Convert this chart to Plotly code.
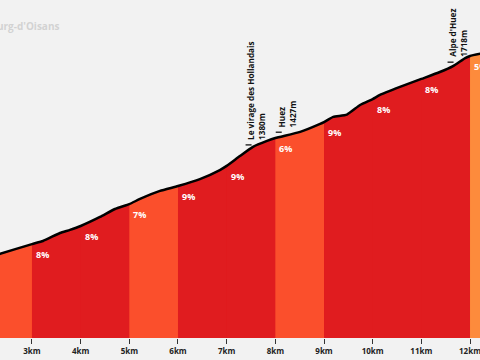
import numpy as np
import plotly.graph_objects as go

# Profile (distance km, elevation m)
dist_km = [2.30, 2.343, 3.0, 3.226, 3.576, 3.781, 4.0, 4.398, 4.706, 5.0, 5.22, 5.63, 6.0,
           6.45, 6.86, 7.0, 7.27, 7.54, 7.83, 8.0, 8.51, 8.92, 9.0, 9.19, 9.47, 9.74,
           10.0, 10.15, 10.56, 11.0, 11.38, 11.65, 11.9, 12.0, 12.25]
elev_m = [967, 970, 1008, 1020, 1051, 1063, 1078, 1113, 1144, 1163, 1183, 1214, 1233,
          1260, 1295, 1311, 1349, 1385, 1408, 1419, 1443, 1474, 1481, 1501, 1510, 1547,
          1570, 1586, 1617, 1648, 1675, 1698, 1729, 1737, 1747]

# Gradient segments
seg_start = [2.30, 3, 4, 5, 6, 7, 8, 9, 10, 11, 12]
seg_end = [3, 4, 5, 6, 7, 8, 9, 10, 11, 12, 12.25]
seg_grade = [7, 8, 8, 7, 9, 9, 6, 9, 8, 8, 5]

# Landmarks
lm_km = [7.45, 8.07, 11.6]
lm_name = ["Le virage des Hollandais", "Huez", "Alpe d'Huez"]
lm_elev = [1380, 1427, 1718]

tick_vals = [3, 4, 5, 6, 7, 8, 9, 10, 11, 12]
tick_text = [f"{v}km" for v in tick_vals]

X_RANGE = [2.343, 12.205]
Y_RANGE = [644, 1954]
BG = "#f2f2f2"


def grade_color(g):
    if g <= 5:
        return "#fd8b3c"
    if g <= 7:
        return "#fb4f2c"
    return "#e01c1f"


fig = go.Figure()

# base fill to hide seams between segments
fig.add_trace(go.Scatter(x=dist_km, y=elev_m, mode="lines", line=dict(width=0),
                         fill="tozeroy", fillcolor="#e01c1f",
                         hoverinfo="skip", showlegend=False))

for s, e, g in zip(seg_start, seg_end, seg_grade):
    xs = [d for d in dist_km if s <= d <= e]
    ys = [elev_m[i] for i, d in enumerate(dist_km) if s <= d <= e]
    fig.add_trace(go.Scatter(x=xs, y=ys, mode="lines", line=dict(width=0),
                             fill="tozeroy", fillcolor=grade_color(g),
                             hoverinfo="skip", showlegend=False))
    if s > 2.5:
        fig.add_annotation(x=s, y=ys[0], text=f"<b>{g}%</b>", showarrow=False,
                           xanchor="left", yanchor="top", xshift=2, yshift=-2,
                           font=dict(family="Open Sans", size=9, color="white"))

fig.add_trace(go.Scatter(x=dist_km, y=elev_m, mode="lines",
                         line=dict(color="black", width=2.5, shape="spline", smoothing=0.5),
                         hoverinfo="skip", showlegend=False))

for k, n, el in zip(lm_km, lm_name, lm_elev):
    on_line = float(np.interp(k, dist_km, elev_m))
    fig.add_shape(type="line", xref="x", yref="y", xsizemode="pixel", ysizemode="pixel",
                  xanchor=k, yanchor=on_line, x0=-3, x1=3, y0=5, y1=5,
                  line=dict(color="black", width=1.2))
    fig.add_annotation(x=k, y=on_line, text=f"<b>{n}</b><br><b>{el}m</b>", showarrow=False,
                       textangle=-90, align="left", xanchor="left", yanchor="bottom",
                       xshift=-5, yshift=8,
                       font=dict(family="Open Sans", size=8.2, color="#111"))

fig.add_annotation(xref="paper", yref="paper", x=61 / 480, y=1 - 26 / 338,
                   text="<b>Bourg-d'Oisans</b>", showarrow=False, xanchor="right",
                   yanchor="middle", font=dict(family="Open Sans", size=10, color="#d2d2d2"))

fig.update_layout(
    width=480, height=360, margin=dict(l=0, r=0, t=0, b=22),
    paper_bgcolor=BG, plot_bgcolor=BG,
    xaxis=dict(range=X_RANGE, tickvals=tick_vals, ticktext=[f"<b>{t}</b>" for t in tick_text],
               ticks="outside", ticklen=5, tickcolor="#333", tickwidth=1,
               ticklabeloverflow="allow",
               showgrid=False, zeroline=False, showline=False,
               tickfont=dict(family="Open Sans", size=8, color="#222")),
    yaxis=dict(range=Y_RANGE, visible=False, showgrid=False, zeroline=False),
)

fig.write_html("out.html", config={"displayModeBar": False},
               post_script="document.body.style.margin='0';document.body.style.background='#f2f2f2';")
